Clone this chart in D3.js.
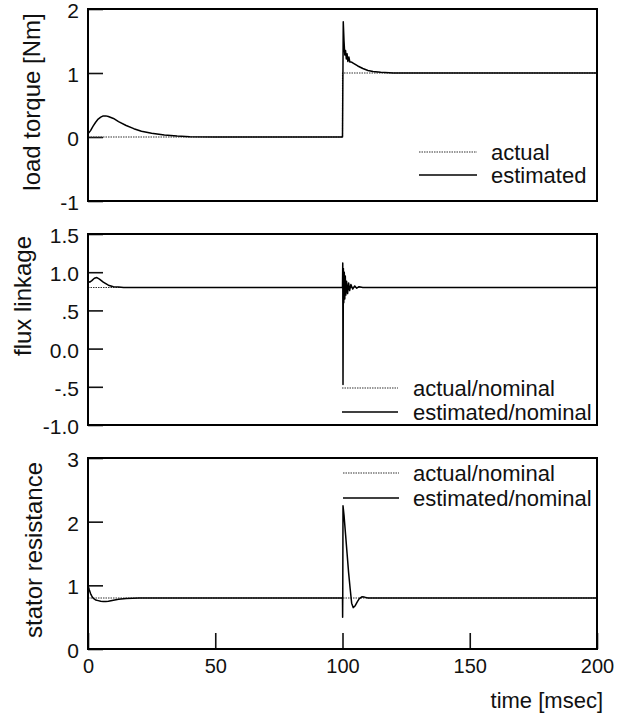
<!DOCTYPE html>
<html>
<head>
<meta charset="utf-8">
<script src="https://cdn.jsdelivr.net/npm/d3@7/dist/d3.min.js"></script>
<style>
  html, body { margin: 0; padding: 0; background: #fff; }
  svg text { font-family: "Liberation Sans", Arial, Helvetica, sans-serif; fill: #111; }
</style>
</head>
<body>
<svg id="chart" width="632" height="716"></svg>
<script>
// time axis
var timeTicks = [0, 50, 100, 150, 200];

// load torque [Nm]
var torqueTicks = [-1, 0, 1, 2];
var torqueActualT = [0, 100, 100, 200];
var torqueActual  = [0, 0, 1, 1];
var torqueEstT = [0, 1, 2, 3, 4, 5, 6, 7, 8, 10, 12, 15, 18, 21, 25, 30, 35, 40, 50, 100,
                  100.3, 100.6, 100.9, 101.2, 101.5, 101.8, 102.1, 102.5, 102.9, 103.5, 104,
                  106, 108, 110, 112, 115, 120, 200];
var torqueEst  = [0.05, 0.1, 0.17, 0.23, 0.28, 0.31, 0.33, 0.33, 0.32, 0.29, 0.24, 0.18, 0.13, 0.09, 0.06, 0.03, 0.015, 0.005, 0, 0,
                  1.8, 1.5, 1.28, 1.35, 1.22, 1.3, 1.18, 1.25, 1.17, 1.17, 1.16,
                  1.11, 1.07, 1.04, 1.025, 1.01, 1.0, 1.0];

// flux linkage
var fluxTicks = [-1, -0.5, 0, 0.5, 1, 1.5];
var fluxTickLabels = ["-1.0", "-.5", "0.0", ".5", "1.0", "1.5"];
var fluxActualT = [0, 200];
var fluxActual  = [0.8, 0.8];
var fluxEstT = [0, 0.7, 1.5, 2.5, 3.5, 4.5, 6, 8, 10, 12, 14, 100,
                100.1, 100.2, 100.35, 100.5, 100.7, 100.9, 101.1, 101.3, 101.6, 102, 102.4,
                102.8, 103.3, 104, 104.8, 105.6, 106.5, 108, 200];
var fluxEst  = [0.88, 0.87, 0.89, 0.92, 0.93, 0.91, 0.87, 0.83, 0.81, 0.805, 0.8, 0.8,
                1.12, -0.47, 1.05, 0.6, 1.0, 0.65, 0.95, 0.7, 0.88, 0.72, 0.86,
                0.76, 0.84, 0.78, 0.82, 0.79, 0.81, 0.8, 0.8];

// stator resistance
var resTicks = [0, 1, 2, 3];
var resActualT = [0, 200];
var resActual  = [0.8, 0.8];
var resEstT = [0, 0.5, 1, 1.5, 2, 3, 4, 5, 6, 7, 8, 10, 12, 15, 20, 100,
               100.05, 100.1, 100.2, 100.6, 101.2, 101.8, 102.4, 103, 103.6, 104.2,
               105, 105.8, 106.6, 107.6, 108.6, 110, 200];
var resEst  = [1.0, 0.93, 0.87, 0.83, 0.8, 0.77, 0.76, 0.75, 0.745, 0.745, 0.75, 0.765, 0.78, 0.795, 0.8, 0.8,
               0.5, 0.8, 2.25, 2.1, 1.8, 1.5, 1.2, 0.95, 0.72, 0.65,
               0.68, 0.74, 0.79, 0.82, 0.815, 0.8, 0.8];

function zip(ts, vs) {
    return ts.map(function(t, i) { return [t, vs[i]]; });
}

var LEFT = 88, RIGHT = 597;
var svg = d3.select('#chart');
var x = d3.scaleLinear().domain([0, 200]).range([LEFT, RIGHT]);

var panels = [
    { top: 9, bottom: 201, domain: [-1, 2], ticks: torqueTicks, labels: null,
      title: 'load torque [Nm]', titleX: 40, titleY: 102,
      actual: zip(torqueActualT, torqueActual), est: zip(torqueEstT, torqueEst),
      legend: { x1: 419, x2: 477, tx: 491, y1: 152, y2: 175, names: ['actual', 'estimated'] } },
    { top: 234, bottom: 425, domain: [-1, 1.5], ticks: fluxTicks, labels: fluxTickLabels,
      title: 'flux linkage', titleX: 31, titleY: 296,
      actual: zip(fluxActualT, fluxActual), est: zip(fluxEstT, fluxEst),
      legend: { x1: 342, x2: 398, tx: 413, y1: 388, y2: 412, names: ['actual/nominal', 'estimated/nominal'] } },
    { top: 458, bottom: 649, domain: [0, 3], ticks: resTicks, labels: null,
      title: 'stator resistance', titleX: 42, titleY: 550,
      actual: zip(resActualT, resActual), est: zip(resEstT, resEst),
      legend: { x1: 343, x2: 399, tx: 413, y1: 473, y2: 498, names: ['actual/nominal', 'estimated/nominal'] } }
];

panels.forEach(function(p, idx) {
    var y = d3.scaleLinear().domain(p.domain).range([p.bottom, p.top]);
    var g = svg.append('g');

    // y axis, ticks pointing inward
    var yAxis = d3.axisLeft(y)
        .tickValues(p.ticks)
        .tickSize(-15)
        .tickPadding(9)
        .tickFormat(function(d, i) { return p.labels ? p.labels[i] : String(d); });
    var ya = g.append('g').attr('transform', 'translate(' + LEFT + ',0)').call(yAxis);
    ya.select('.domain').remove();
    ya.selectAll('line').attr('stroke', '#111').attr('stroke-width', 1.6);
    ya.selectAll('text').style('font-size', '21px').attr('fill', '#111').attr('dy', '0.4em');

    // x axis only on the last panel
    if (idx === panels.length - 1) {
        var xAxis = d3.axisBottom(x)
            .tickValues(timeTicks)
            .tickSize(-16)
            .tickPadding(10);
        var xa = g.append('g').attr('transform', 'translate(0,' + p.bottom + ')').call(xAxis);
        xa.select('.domain').remove();
        xa.selectAll('line').attr('stroke', '#111').attr('stroke-width', 1.6);
        xa.selectAll('text').style('font-size', '20px').attr('fill', '#111');
        g.append('text')
            .attr('x', 603).attr('y', 708)
            .attr('text-anchor', 'end')
            .style('font-size', '22px')
            .text('time [msec]');
    }

    var line = d3.line()
        .x(function(d) { return x(d[0]); })
        .y(function(d) { return y(d[1]); });

    g.append('path')
        .attr('d', line(p.actual))
        .attr('fill', 'none')
        .attr('stroke', '#333')
        .attr('stroke-width', 1.1)
        .attr('stroke-dasharray', '1.5,1');

    g.append('path')
        .attr('d', line(p.est))
        .attr('fill', 'none')
        .attr('stroke', '#000')
        .attr('stroke-width', 1.5)
        .attr('stroke-linejoin', 'round');

    // frame
    g.append('rect')
        .attr('x', LEFT).attr('y', p.top)
        .attr('width', RIGHT - LEFT).attr('height', p.bottom - p.top)
        .attr('fill', 'none')
        .attr('stroke', '#000')
        .attr('stroke-width', 2);

    // y title
    g.append('text')
        .attr('transform', 'translate(' + p.titleX + ',' + p.titleY + ') rotate(-90)')
        .attr('text-anchor', 'middle')
        .style('font-size', '24px')
        .text(p.title);

    // legend
    var L = p.legend;
    g.append('line')
        .attr('x1', L.x1).attr('x2', L.x2).attr('y1', L.y1).attr('y2', L.y1)
        .attr('stroke', '#333').attr('stroke-width', 1.1).attr('stroke-dasharray', '1.5,1');
    g.append('line')
        .attr('x1', L.x1).attr('x2', L.x2).attr('y1', L.y2).attr('y2', L.y2)
        .attr('stroke', '#000').attr('stroke-width', 1.5);
    g.append('text')
        .attr('x', L.tx).attr('y', L.y1 + 8)
        .style('font-size', '22px')
        .text(L.names[0]);
    g.append('text')
        .attr('x', L.tx).attr('y', L.y2 + 8)
        .style('font-size', '22px')
        .text(L.names[1]);
});
</script>
</body>
</html>
